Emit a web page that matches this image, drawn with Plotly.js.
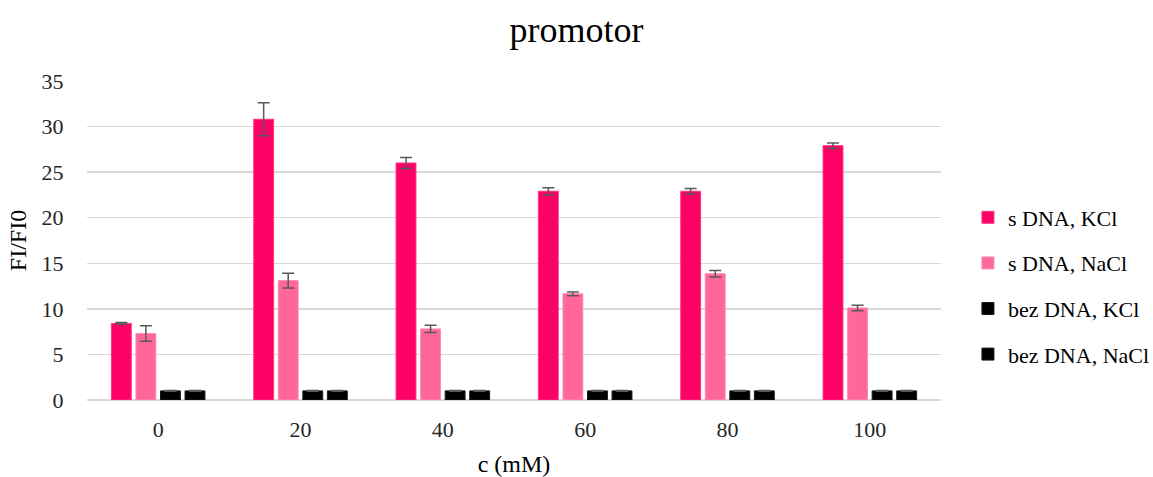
<!DOCTYPE html>
<html>
<head>
<meta charset="utf-8">
<script src="https://cdn.plot.ly/plotly-3.0.1.min.js"></script>
<style>html,body{margin:0;padding:0;background:#fff;}#chart{width:1153px;height:477px;}</style>
</head>
<body>
<div id="chart"></div>
<script>
const categories = ["0", "20", "40", "60", "80", "100"];
const seriesNames = ["s DNA, KCl", "s DNA, NaCl", "bez DNA, KCl", "bez DNA, NaCl"];
const sDnaKCl = [8.4, 30.8, 26.0, 22.9, 22.9, 27.9];
const sDnaKClErr = [0.1, 1.8, 0.6, 0.4, 0.3, 0.3];
const sDnaNaCl = [7.3, 13.1, 7.8, 11.65, 13.85, 10.1];
const sDnaNaClErr = [0.85, 0.8, 0.4, 0.2, 0.35, 0.3];
const bezDnaKCl = [1.0, 1.0, 1.0, 1.0, 1.0, 1.0];
const bezDnaKClErr = [0.05, 0.05, 0.05, 0.05, 0.05, 0.05];
const bezDnaNaCl = [1.0, 1.0, 1.0, 1.0, 1.0, 1.0];
const bezDnaNaClErr = [0.05, 0.05, 0.05, 0.05, 0.05, 0.05];
const yTicks = [0, 5, 10, 15, 20, 25, 30, 35];

const colors = ["#FF0066", "#FF6699", "#000000", "#000000"];
const lineColors = ["#FF3385", "#FF8CB3", "#1a1a1a", "#1a1a1a"];
const values = [sDnaKCl, sDnaNaCl, bezDnaKCl, bezDnaNaCl];
const errs = [sDnaKClErr, sDnaNaClErr, bezDnaKClErr, bezDnaNaClErr];

const font = "Liberation Serif";

const traces = values.map((v, i) => ({
  type: "bar",
  name: seriesNames[i],
  x: categories,
  y: v,
  legendgroup: "g" + i,
  marker: {color: colors[i], line: {color: lineColors[i], width: 1}},
  error_y: {type: "data", array: errs[i], visible: true, color: "#595959", thickness: 1.5, width: 6}
}));

const layout = {
  width: 1153, height: 477,
  margin: {l: 87, r: 212, t: 81, b: 77},
  paper_bgcolor: "#fff", plot_bgcolor: "#fff",
  font: {family: font, color: "#262626", size: 22},
  title: {text: "promotor", font: {family: font, size: 36, color: "#000"}, x: 0.5, xanchor: "center", y: 0.965, yanchor: "top"},
  barmode: "group",
  bargap: 0.31,
  bargroupgap: 0.19,
  xaxis: {
    type: "category",
    title: {text: "c (mM)", font: {family: font, size: 24, color: "#000"}, standoff: 18},
    tickfont: {family: font, size: 22, color: "#262626"},
    showgrid: false, zeroline: false, showline: false,
    ticks: "outside", ticklen: 10, tickcolor: "rgba(0,0,0,0)"
  },
  yaxis: {
    range: [0, 35],
    tickvals: yTicks,
    title: {text: "FI/FI0", font: {family: font, size: 24, color: "#000"}, standoff: 8},
    tickfont: {family: font, size: 22, color: "#262626"},
    gridcolor: "#D9D9D9", gridwidth: 1.5,
    zeroline: true, zerolinecolor: "#D9D9D9", zerolinewidth: 1.5,
    showline: false,
    ticks: "outside", ticklen: 18, tickcolor: "rgba(0,0,0,0)"
  },
  legend: {
    xref: "container", yref: "container",
    x: 0.8395, xanchor: "left", y: 1 - 286 / 477, yanchor: "middle",
    font: {family: font, size: 22, color: "#000"},
    traceorder: "grouped", tracegroupgap: 14,
    itemwidth: 30
  },
  showlegend: true
};

Plotly.newPlot("chart", traces, layout, {displayModeBar: false, staticPlot: true});
</script>
</body>
</html>
